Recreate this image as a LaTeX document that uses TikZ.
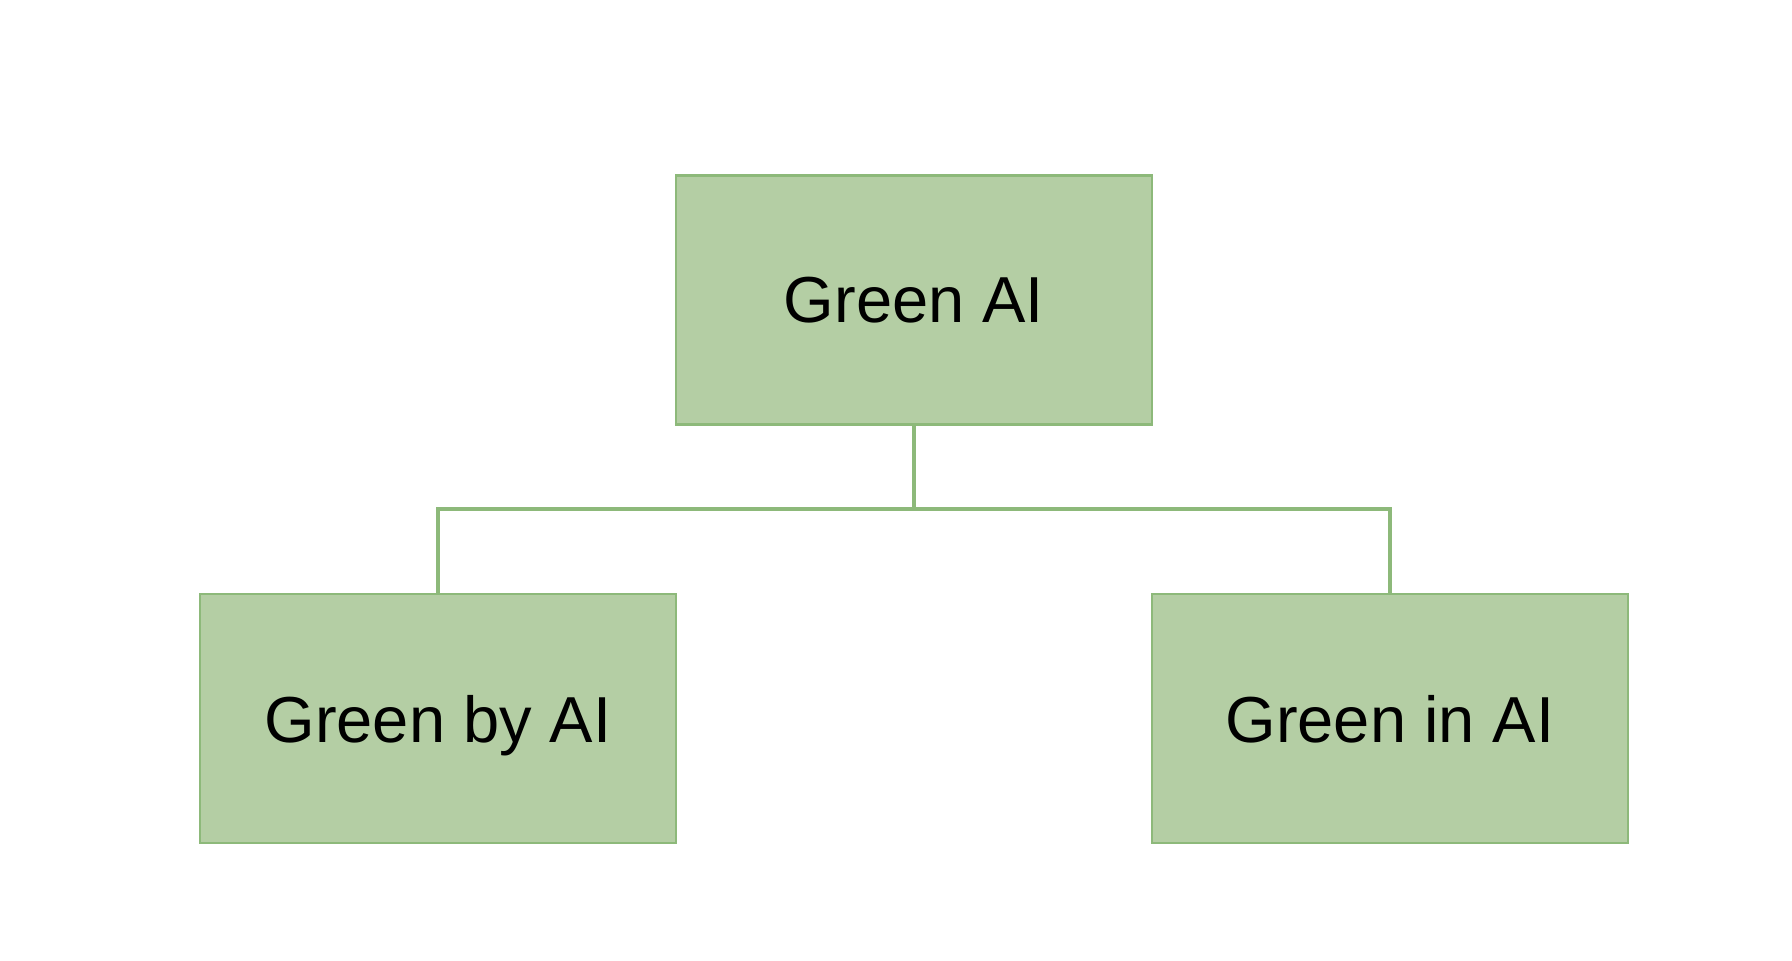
\documentclass[tikz,border=0pt]{standalone}
\usepackage{fontspec}
\setmainfont{Liberation Sans}
\definecolor{boxfill}{HTML}{B4CEA4}
\definecolor{boxline}{HTML}{8DB97A}
\tikzset{
    topic/.style={draw=boxline, line width=0.6pt, fill=boxfill,
        minimum width=4.76cm, minimum height=2.49cm, inner sep=0pt,
        text depth=0pt, font=\fontsize{18.5}{22}\selectfont},
    link/.style={draw=boxline, line width=0.9pt}
}
\begin{document}
\begin{tikzpicture}
        \useasboundingbox (0,0) rectangle (17.92,9.6);

        \coordinate (bus) at (9.14,4.51);

        \node[topic] (green) at (9.14,6.6) {Green AI};
        \node[topic] (byai) at (4.38,2.415) {Green by AI};
        \node[topic] (inai) at (13.90,2.415) {Green in AI};

    % Connectors
    \draw[link] (green.south) -- (bus);
    \draw[link] (byai.north) -- (byai.north |- bus) -- (inai.north |- bus) -- (inai.north);
    \end{tikzpicture}
\end{document}
